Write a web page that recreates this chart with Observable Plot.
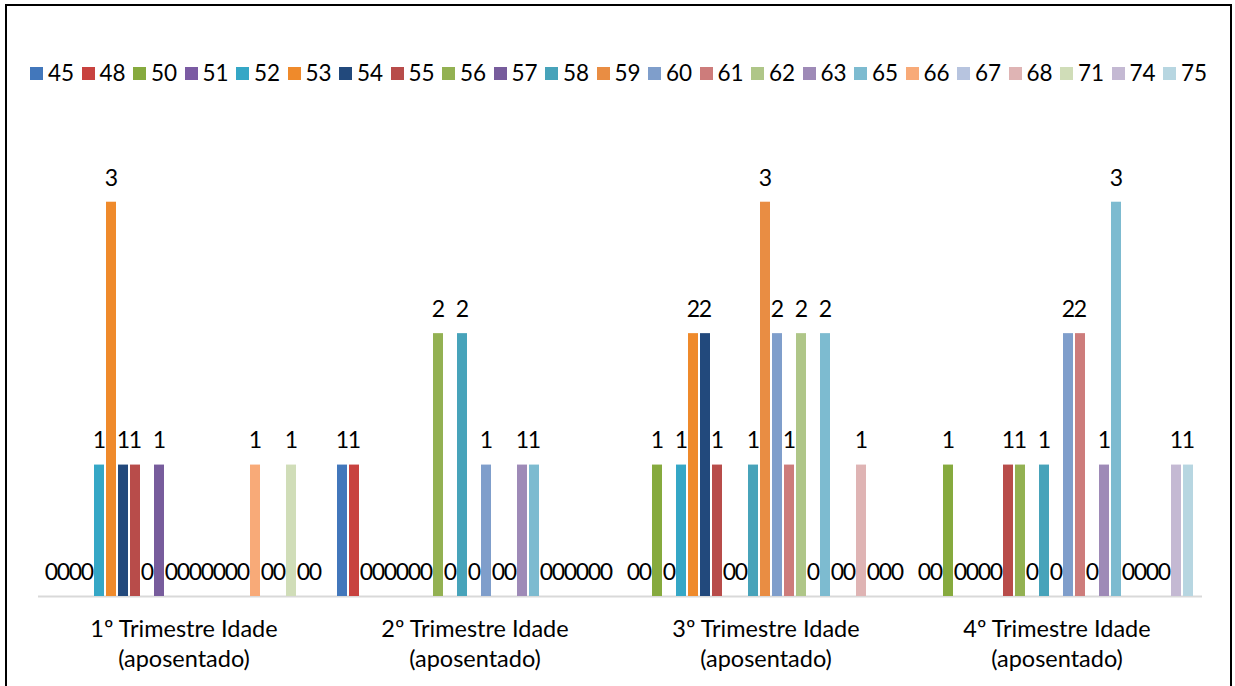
<!DOCTYPE html>
<html>
<head>
<meta charset="utf-8">
<script src="https://cdn.jsdelivr.net/npm/d3@7"></script>
<script src="https://cdn.jsdelivr.net/npm/@observablehq/plot@0.6"></script>
<style>
  html, body { margin: 0; padding: 0; background: #fff; }
  body { width: 1235px; height: 686px; position: relative; overflow: hidden; font-family: Lato, "Open Sans", sans-serif; color: #000; }
  #frame { position: absolute; left: 5px; top: 4px; width: 1223px; height: 720px; border: 2px solid #000; border-bottom: none; }
  #legend { position: absolute; left: 30px; top: 62px; height: 22px; display: flex; align-items: center; }
  .item { width: 51.5px; display: flex; align-items: center; font-size: 22.5px; line-height: 22px; }
  .sw { width: 13px; height: 13px; margin-right: 5px; flex: none; }
  #chart { position: absolute; left: 0; top: 100px; }
</style>
</head>
<body>
<div id="frame"></div>
<div id="legend"></div>
<div id="chart"></div>
<script>
const ages = ["45","48","50","51","52","53","54","55","56","57","58","59","60","61","62","63","65","66","67","68","71","74","75"];
const categories = [
  "1º Trimestre Idade\n(aposentado)",
  "2º Trimestre Idade\n(aposentado)",
  "3º Trimestre Idade\n(aposentado)",
  "4º Trimestre Idade\n(aposentado)"
];
// values per age for each quarter, in the order of `ages`
const q1 = [0,0,0,0,1,3,1,1,0,1,0,0,0,0,0,0,0,1,0,0,1,0,0];
const q2 = [1,1,0,0,0,0,0,0,2,0,2,0,1,0,0,1,1,0,0,0,0,0,0];
const q3 = [0,0,1,0,1,2,2,1,0,0,1,3,2,1,2,0,2,0,0,1,0,0,0];
const q4 = [0,0,1,0,0,0,0,1,1,0,1,0,2,2,0,1,3,0,0,0,0,1,1];
const seriesColors = [
  "#4277BB","#C8423F","#86AA3E","#7B5BA3","#35A7C6","#EF8A2B","#22497C",
  "#B84C4A","#93B152","#775C9C","#47A3BA","#E98D43","#7F9ECB","#CD7C7B",
  "#AFC688","#9E8AB7","#7DBBD0","#F8AA78","#B7C4DF","#DFB4B4","#D0DDB8",
  "#C4B9D3","#B7D6E1"
];

const quarters = [q1, q2, q3, q4];
const data = categories.flatMap((c, i) => ages.map((a, j) => ({cat: c, age: a, value: quarters[i][j]})));

// legend
const legend = document.getElementById("legend");
ages.forEach((a, i) => {
  const it = document.createElement("div");
  it.className = "item";
  const sw = document.createElement("span");
  sw.className = "sw";
  sw.style.background = seriesColors[i];
  const t = document.createElement("span");
  t.textContent = a;
  it.appendChild(sw); it.appendChild(t);
  legend.appendChild(it);
});

const chart = Plot.plot({
  width: 1235,
  height: 586,
  marginLeft: 36,
  marginRight: 32,
  marginTop: 36,
  marginBottom: 90,
  style: {fontFamily: "Lato, 'Open Sans', sans-serif", background: "transparent", color: "#000", overflow: "visible"},
  fx: {domain: categories, padding: 0, label: null},
  x: {domain: ages, paddingInner: 0.15, paddingOuter: 0.6, axis: null},
  y: {domain: [0, 3.5], axis: null},
  color: {domain: ages, range: seriesColors},
  marks: [
    Plot.ruleY([0], {stroke: "#d9d9d9", strokeWidth: 2}),
    Plot.barY(data, {fx: "cat", x: "age", y: "value", fill: "age"}),
    Plot.text(data, {fx: "cat", x: "age", y: "value", text: d => String(d.value), dy: -24, fontSize: 23, fill: "#000"}),
    Plot.axisFx({anchor: "bottom", tickSize: 0, tickPadding: 19, fontSize: 23.5, lineHeight: 1.28, label: null, fill: "#000"})
  ]
});
document.getElementById("chart").appendChild(chart);
</script>
</body>
</html>
